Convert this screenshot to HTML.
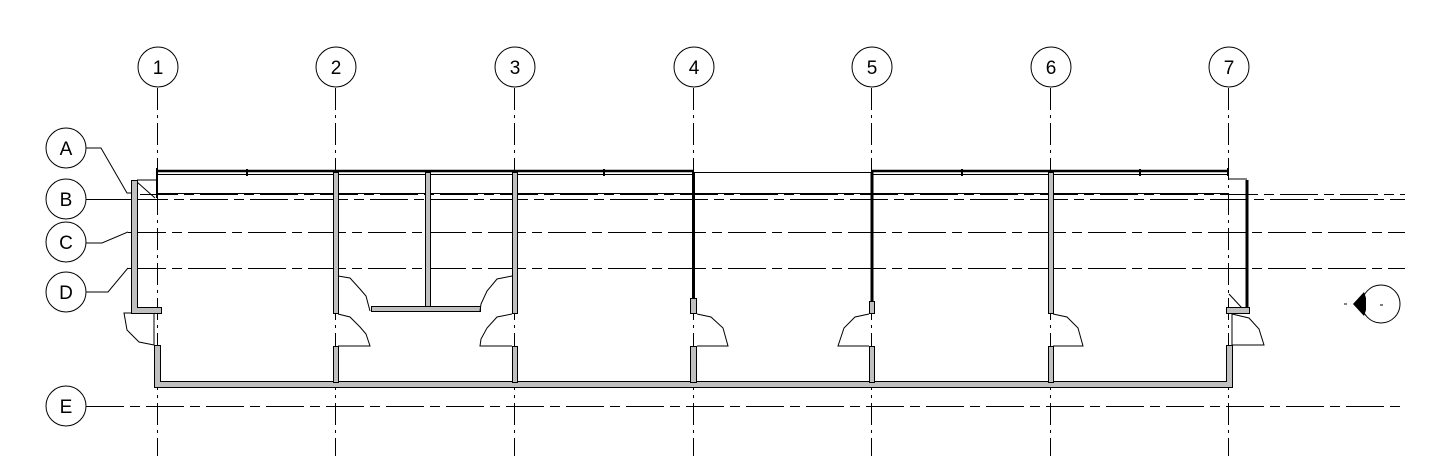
<!DOCTYPE html>
<html><head><style>html,body{margin:0;padding:0;background:#fff}svg{display:block}</style></head>
<body>
<svg width="1452" height="456" viewBox="0 0 1452 456" xmlns="http://www.w3.org/2000/svg" font-family="Liberation Sans, sans-serif">
<g stroke="#000" fill="none" stroke-width="1">
<g stroke-dasharray="22,5,3,5">
<line x1="157.5" y1="88" x2="157.5" y2="456"/>
<line x1="335.5" y1="88" x2="335.5" y2="456"/>
<line x1="514.5" y1="88" x2="514.5" y2="456"/>
<line x1="693.5" y1="88" x2="693.5" y2="456"/>
<line x1="871.5" y1="88" x2="871.5" y2="456"/>
<line x1="1050.5" y1="88" x2="1050.5" y2="456"/>
<line x1="1228.5" y1="88" x2="1228.5" y2="456"/>
</g>
<g stroke-dasharray="38,6,10,6">
<line x1="140" y1="194.5" x2="1405" y2="194.5"/>
<line x1="130" y1="199.5" x2="1405" y2="199.5"/>
<line x1="128" y1="232.5" x2="1405" y2="232.5"/>
<line x1="128" y1="268.5" x2="1405" y2="268.5"/>
<line x1="86" y1="406.5" x2="1405" y2="406.5"/>
</g>
<line x1="157" y1="193.5" x2="1228" y2="193.5"/>
<g fill="#fff">
<circle cx="158" cy="67" r="20"/><circle cx="336" cy="67" r="20"/><circle cx="515" cy="67" r="20"/>
<circle cx="694" cy="67" r="20"/><circle cx="872" cy="67" r="20"/><circle cx="1051" cy="67" r="20"/>
<circle cx="1229" cy="67" r="20"/>
<circle cx="66" cy="148" r="20"/><circle cx="66" cy="199" r="20"/><circle cx="66" cy="242" r="20"/>
<circle cx="66" cy="292" r="20"/><circle cx="66" cy="406" r="20"/>
</g>
<polyline points="86,148 101,148 127,193 131,193"/>
<line x1="86" y1="199.5" x2="131" y2="199.5"/>
<polyline points="86,243 102,243 128,232"/>
<polyline points="86,292 108,292 128,268"/>
<line x1="157" y1="171" x2="693" y2="171" stroke-width="2.5"/>
<line x1="157" y1="174.5" x2="693" y2="174.5"/>
<line x1="871" y1="171" x2="1228" y2="171" stroke-width="2.5"/>
<line x1="871" y1="174.5" x2="1228" y2="174.5"/>
<line x1="693" y1="172.5" x2="871" y2="172.5"/>
<line x1="157" y1="168" x2="157" y2="198" stroke-width="2"/>
<line x1="247" y1="169" x2="247" y2="176" stroke-width="2"/>
<line x1="604" y1="169" x2="604" y2="176" stroke-width="2"/>
<line x1="962" y1="169" x2="962" y2="176" stroke-width="2"/>
<line x1="1140" y1="169" x2="1140" y2="176" stroke-width="2"/>
<line x1="1228" y1="168" x2="1228" y2="176" stroke-width="2"/>
<polyline points="137,180 157,180"/><line x1="137" y1="182" x2="155" y2="198"/>
<line x1="693.5" y1="172" x2="693.5" y2="298" stroke-width="3"/>
<line x1="872" y1="172" x2="872" y2="301" stroke-width="3"/>
<polyline points="1229,179 1247,179"/>
<line x1="1247" y1="180" x2="1247" y2="308" stroke-width="3"/>
<line x1="1229" y1="294" x2="1242" y2="308"/>
</g>
<g fill="#c0c0c0" stroke="#000" stroke-width="1">
<path d="M131.5,180.5 H137.5 V307.5 H161.5 V313.5 H131.5 Z"/>
<path d="M154.5,345.5 H160.5 V381.5 H1226.5 V345.5 H1232.5 V387.5 H154.5 Z"/>
<rect x="333.5" y="172.5" width="5" height="141"/>
<rect x="333.5" y="346.5" width="5" height="36"/>
<rect x="425.5" y="172.5" width="5" height="134"/>
<rect x="371.5" y="306.5" width="109" height="5"/>
<rect x="512.5" y="172.5" width="5" height="141"/>
<rect x="512.5" y="346.5" width="5" height="36"/>
<rect x="690.5" y="298.5" width="6" height="15"/>
<rect x="690.5" y="346.5" width="6" height="36"/>
<rect x="869.5" y="301.5" width="5" height="12"/>
<rect x="869.5" y="346.5" width="5" height="36"/>
<rect x="1048.5" y="172.5" width="5" height="141"/>
<rect x="1048.5" y="346.5" width="5" height="36"/>
<rect x="1226.5" y="307.5" width="23" height="6"/>
</g>
<g stroke="#000" fill="none" stroke-width="1">
<polyline points="131,313 124,313 127,330 139,342 154,345"/>
<line x1="154" y1="313" x2="154" y2="345"/>
<polyline points="338,276 350,278 360,289 366,296 370,311"/>
<polyline points="338,314 350,317 360,327 366,334 370,346 338,346"/>
<polyline points="512,276 497,279 487,291 481,304 480,311"/>
<polyline points="512,314 497,317 487,328 481,339 480,346 512,346"/>
<polyline points="697,314 711,317 723,328 728,346 697,346"/>
<polyline points="869,314 855,317 844,328 838,346 869,346"/>
<polyline points="1053,314 1067,317 1078,328 1083,346 1053,346"/>
<polyline points="1232,314 1249,318 1259,329 1264,345 1232,345"/>
<line x1="1232" y1="314" x2="1232" y2="345"/>
<circle cx="1381" cy="304" r="19"/>
<line x1="1344" y1="304" x2="1347" y2="304"/>
<line x1="1380" y1="305" x2="1383" y2="305"/>
</g>
<path d="M1353,304 L1364,292 L1366,298 L1366,310 L1364,316 Z" fill="#000"/>
<g font-size="19" text-anchor="middle" fill="#000">
<text x="158" y="74">1</text><text x="336" y="74">2</text><text x="515" y="74">3</text>
<text x="694" y="74">4</text><text x="872" y="74">5</text><text x="1051" y="74">6</text>
<text x="1229" y="74">7</text>
<text x="66" y="155">A</text><text x="66" y="206">B</text><text x="66" y="249">C</text>
<text x="66" y="299">D</text><text x="66" y="413">E</text>
</g>
</svg>
</body></html>
